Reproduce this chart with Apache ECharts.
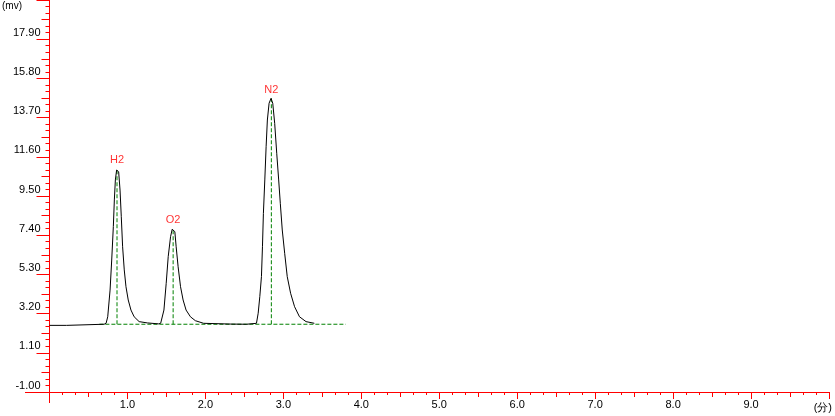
<!DOCTYPE html>
<html><head><meta charset="utf-8">
<script src="https://cdn.jsdelivr.net/npm/echarts@6/dist/echarts.min.js"></script>
<style>html,body{margin:0;padding:0;background:#fff}#c{width:835px;height:416px}</style>
</head><body><div id="c"></div>
<script>
// ---- data ----
const traceTime = [0, 0.22, 0.23, 0.70, 0.726, 0.747, 0.777, 0.798, 0.819, 0.832, 0.845, 0.861, 0.870, 0.887, 0.905, 0.921, 0.938, 0.959, 0.981, 1.010, 1.045, 1.086, 1.150, 1.256, 1.40,
  1.426, 1.468, 1.497, 1.523, 1.553, 1.574, 1.586, 1.608, 1.625, 1.650, 1.681, 1.714, 1.752, 1.808, 1.871, 1.977, 2.317, 2.528,
  2.655, 2.677, 2.698, 2.719, 2.732, 2.744, 2.762, 2.779, 2.795, 2.817, 2.842, 2.864, 2.889, 2.915, 2.940, 2.961, 2.986, 3.017, 3.050, 3.093, 3.144, 3.207, 3.291, 3.398];
const traceSignal = [2.57, 2.57, 2.62, 2.63, 2.68, 3.03, 4.46, 6.07, 7.86, 9.29, 10.36, 10.89, 10.95, 10.80, 9.82, 8.39, 6.78, 5.54, 4.64, 3.93, 3.39, 3.03, 2.77, 2.70, 2.65,
  2.68, 3.39, 4.82, 6.25, 7.32, 7.72, 7.77, 7.59, 6.78, 5.71, 4.64, 3.93, 3.39, 3.03, 2.82, 2.68, 2.64, 2.63,
  2.68, 3.22, 4.11, 5.18, 6.78, 8.57, 10.36, 12.14, 13.57, 14.47, 14.73, 14.47, 13.39, 11.79, 10.36, 9.11, 7.68, 6.43, 5.18, 4.29, 3.57, 3.03, 2.77, 2.68];
const peakNames = ['H2', 'O2', 'N2'];
const peakTimes = [0.866, 1.586, 2.846];
const peakHeights = [10.95, 7.77, 14.73];
const baselineLevel = 2.63;
const baselineSpan = [0.64, 3.80];
const yMin = -1.00, yMax = 20.00, yStep = 2.10;
const xMin = 0, xMax = 10, xStep = 1;
const yUnit = '(mv)';
const xUnit = '(分)';

// ---- chart ----
const red = '#ff0000', green = '#008000';
const font = '"Liberation Sans", Arial, sans-serif';
const chart = echarts.init(document.getElementById('c'), null, {renderer: 'canvas'});

const dropSeries = peakNames.map((n, i) => ({
  type: 'line', xAxisIndex: 0, yAxisIndex: 0, symbol: 'none', silent: true, z: 3,
  lineStyle: {color: green, width: 1, type: [4, 2]},
  data: [[peakTimes[i], baselineLevel], [peakTimes[i], peakHeights[i]]]
}));

chart.setOption({
  animation: false,
  backgroundColor: '#fff',
  grid: {left: 49.5, right: 0, top: 0, bottom: 24, containLabel: false},
  xAxis: [{
    type: 'value', min: xMin, max: xMax, interval: xStep, position: 'bottom',
    axisLine: {show: true, onZero: false, lineStyle: {color: red, width: 1}},
    axisTick: {show: true, length: 7, lineStyle: {color: red}},
    minorTick: {show: true, splitNumber: 6, length: 3, lineStyle: {color: red}},
    splitLine: {show: false}, minorSplitLine: {show: false},
    axisLabel: {formatter: v => v.toFixed(1), showMinLabel: false, showMaxLabel: false,
      color: '#000', fontSize: 11, fontFamily: font, margin: 7},
    name: xUnit, nameLocation: 'end', nameGap: 3,
    nameTextStyle: {color: '#000', fontSize: 11, fontFamily: font, align: 'right', verticalAlign: 'top', padding: [10, 0, 0, 0]}
  }, {
    type: 'value', min: xMin, max: xMax, interval: xStep / 2, position: 'bottom',
    axisLine: {show: false, onZero: false},
    axisTick: {show: true, length: 5, lineStyle: {color: red}},
    axisLabel: {show: false}, splitLine: {show: false}
  }],
  yAxis: [{
    type: 'value', min: yMin, max: yMax, interval: yStep, position: 'left',
    axisLine: {show: true, onZero: false, lineStyle: {color: red, width: 1}},
    axisTick: {show: true, length: 13, lineStyle: {color: red}},
    minorTick: {show: true, splitNumber: 6, length: 4, lineStyle: {color: red}},
    splitLine: {show: false}, minorSplitLine: {show: false},
    axisLabel: {formatter: v => v.toFixed(2), showMaxLabel: false, color: '#000', fontSize: 11,
      fontFamily: font, margin: 9, verticalAlign: 'bottom', padding: [0, 0, 1, 0]}
  }, {
    type: 'value', min: yMin, max: yMax, interval: yStep / 2, position: 'left',
    axisLine: {show: false, onZero: false},
    axisTick: {show: true, length: 8, lineStyle: {color: red}},
    axisLabel: {show: false}, splitLine: {show: false}
  }],
  graphic: [{type: 'text', left: 2, top: 1, style: {text: yUnit, fill: '#000', font: '10px ' + font}}],
  series: [{
    type: 'line', xAxisIndex: 0, yAxisIndex: 0, symbol: 'none', silent: true, z: 2,
    lineStyle: {color: green, width: 1, type: [4, 2]},
    data: [[baselineSpan[0], baselineLevel], [baselineSpan[1], baselineLevel]]
  }, {
    type: 'line', xAxisIndex: 0, yAxisIndex: 0, symbol: 'none', silent: true, z: 4,
    lineStyle: {color: '#000', width: 1},
    data: traceTime.map((t, i) => [t, traceSignal[i]])
  }].concat(dropSeries).concat([{
    type: 'scatter', xAxisIndex: 0, yAxisIndex: 0, symbolSize: 0, silent: true, z: 5,
    label: {show: true, position: 'top', distance: 3, color: red, fontSize: 11, fontFamily: font,
      formatter: p => p.data[2]},
    data: peakNames.map((n, i) => [peakTimes[i], peakHeights[i], n])
  }])
});

// small axis extensions (left of y axis and below x axis), placed from the axis scales
const o = chart.convertToPixel({gridIndex: 0}, [xMin, yMin]);
chart.setOption({graphic: [
  {type: 'text', left: 2, top: 1, style: {text: yUnit, fill: '#000', font: '10px ' + font}},
  {type: 'line', shape: {x1: o[0] - 24.5, y1: Math.round(o[1]) + 0.5, x2: o[0], y2: Math.round(o[1]) + 0.5}, style: {stroke: red, lineWidth: 1}},
  {type: 'line', shape: {x1: Math.round(o[0]) - 0.5, y1: o[1], x2: Math.round(o[0]) - 0.5, y2: o[1] + 11}, style: {stroke: red, lineWidth: 1}}
]});
</script>
</body></html>
